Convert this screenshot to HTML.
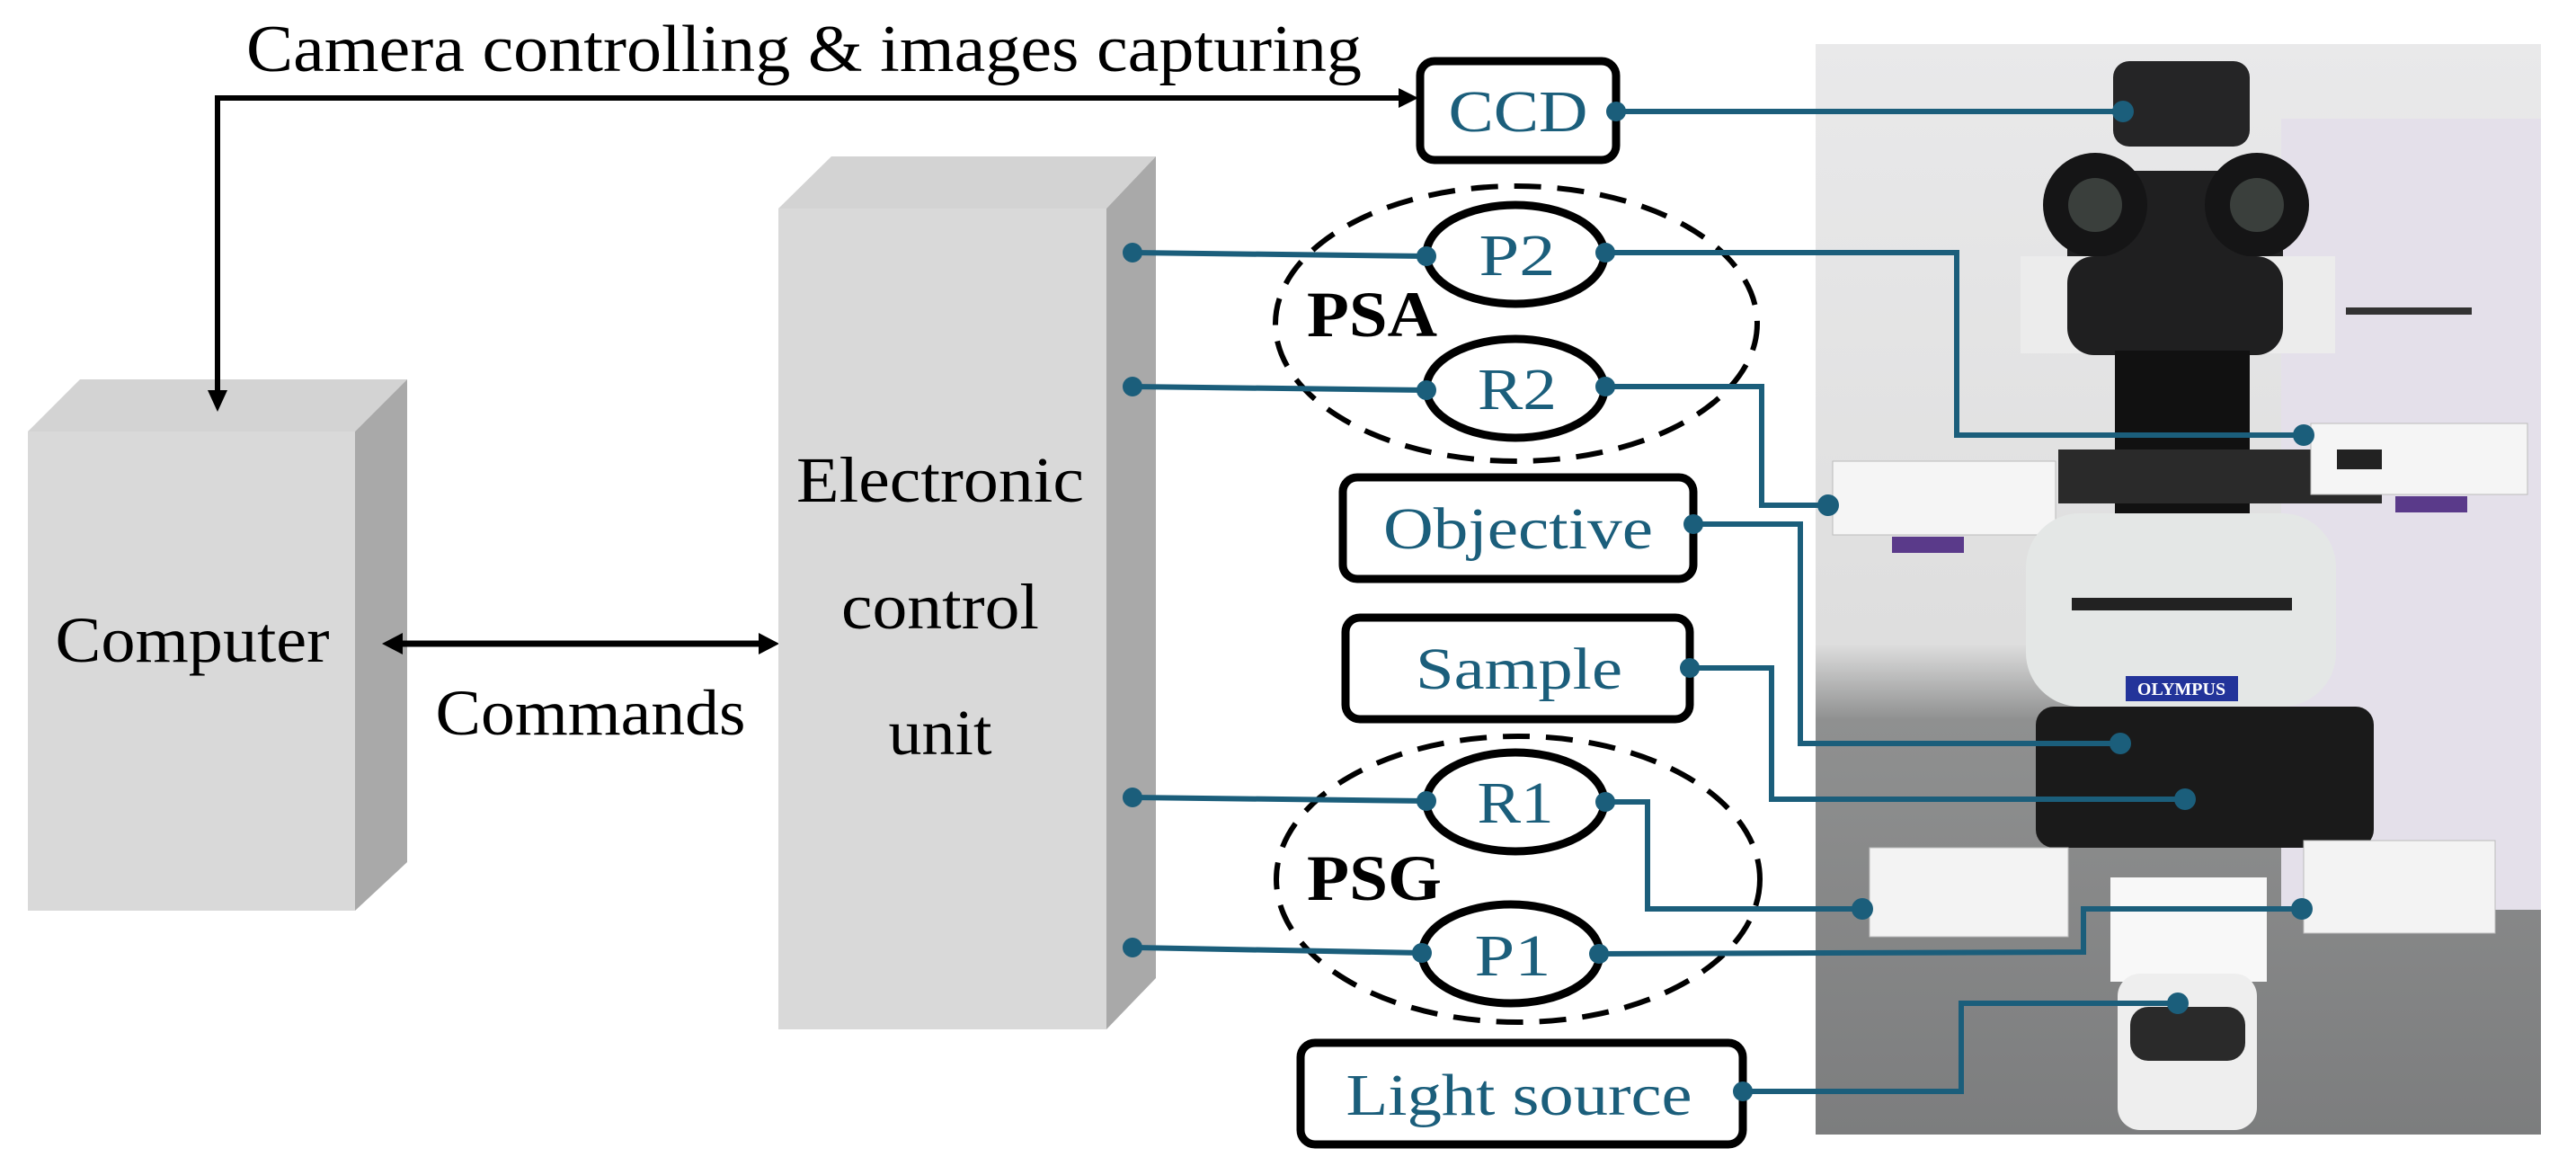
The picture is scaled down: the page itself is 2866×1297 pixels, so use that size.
<!DOCTYPE html>
<html><head><meta charset="utf-8"><style>
html,body{margin:0;padding:0;background:#fff;}
svg{display:block;}
text{font-family:"Liberation Serif",serif;}
</style></head><body>
<svg width="2866" height="1297" viewBox="0 0 2866 1297" xmlns="http://www.w3.org/2000/svg">
<defs>
<linearGradient id="bg" x1="0" y1="0" x2="0" y2="1">
<stop offset="0" stop-color="#e9e9ea"/><stop offset="0.55" stop-color="#dedede"/><stop offset="0.62" stop-color="#8f9090"/><stop offset="1" stop-color="#7c7d7e"/>
</linearGradient>
</defs>
<!-- Photo -->
<g>
<rect x="2020" y="49" width="807" height="1213" fill="url(#bg)"/>
<rect x="2538" y="132" width="289" height="880" fill="#e4e0ea"/>
<rect x="2351" y="68" width="152" height="95" rx="18" fill="#252526"/>
<rect x="2300" y="190" width="240" height="200" rx="40" fill="#1f1f20"/>
<circle cx="2331" cy="228" r="58" fill="#151516"/><circle cx="2331" cy="228" r="30" fill="#3a3f3c"/>
<circle cx="2511" cy="228" r="58" fill="#151516"/><circle cx="2511" cy="228" r="30" fill="#3a3f3c"/>
<rect x="2248" y="285" width="350" height="108" fill="#ececec"/>
<rect x="2300" y="285" width="240" height="110" rx="30" fill="#1f1f20"/>
<rect x="2610" y="342" width="140" height="8" fill="#333"/>
<rect x="2353" y="390" width="150" height="200" fill="#111"/>
<rect x="2290" y="500" width="360" height="60" fill="#2a2a2a"/>
<rect x="2039" y="513" width="248" height="82" fill="#f5f5f5" stroke="#bbb"/>
<rect x="2571" y="471" width="241" height="79" fill="#f5f5f5" stroke="#bbb"/>
<rect x="2600" y="500" width="50" height="22" fill="#222"/>
<rect x="2105" y="597" width="80" height="18" fill="#5a3a8a"/>
<rect x="2665" y="552" width="80" height="18" fill="#5a3a8a"/>
<rect x="2254" y="571" width="345" height="215" rx="60" fill="#e4e7e6"/>
<rect x="2305" y="665" width="245" height="14" fill="#222"/>
<rect x="2365" y="752" width="125" height="28" fill="#23349a"/>
<text x="2427" y="773" font-size="20" font-weight="bold" fill="#fff" text-anchor="middle" font-family="Liberation Sans,sans-serif">OLYMPUS</text>
<rect x="2265" y="786" width="376" height="157" rx="20" fill="#1a1a1a"/>
<rect x="2080" y="943" width="221" height="99" fill="#f3f3f3" stroke="#bbb"/>
<rect x="2563" y="935" width="213" height="103" fill="#f3f3f3" stroke="#bbb"/>
<rect x="2348" y="976" width="174" height="116" fill="#f8f8f8"/>
<rect x="2356" y="1083" width="155" height="174" rx="25" fill="#eee"/>
<rect x="2370" y="1120" width="128" height="60" rx="20" fill="#2a2a2a"/>
</g>

<!-- Title -->
<text x="274" y="79" font-size="74" textLength="1241" lengthAdjust="spacingAndGlyphs">Camera controlling &amp; images capturing</text>

<!-- Computer -->
<polygon points="31,480 89,422 453,422 395,480" fill="#d3d3d3"/>
<polygon points="395,480 453,422 453,959 395,1013" fill="#a9a9a9"/>
<rect x="31" y="480" width="364" height="533" fill="#d9d9d9"/>
<text x="214" y="736" font-size="72" text-anchor="middle" textLength="305" lengthAdjust="spacingAndGlyphs">Computer</text>

<!-- top arrow -->
<polyline points="242,440 242,109 1560,109" fill="none" stroke="#000" stroke-width="6"/>
<polygon points="1578,109 1556,98 1556,120" fill="#000"/>
<polygon points="242,458 231,434 253,434" fill="#000"/>

<!-- Commands -->
<line x1="440" y1="716" x2="852" y2="716" stroke="#000" stroke-width="7"/>
<polygon points="425,716 448,704 448,728" fill="#000"/>
<polygon points="867,716 844,704 844,728" fill="#000"/>
<text x="657" y="817" font-size="72" text-anchor="middle" textLength="345" lengthAdjust="spacingAndGlyphs">Commands</text>

<!-- ECU -->
<polygon points="866,232 925,174 1286,174 1231,232" fill="#d3d3d3"/>
<polygon points="1231,232 1286,174 1286,1088 1231,1145" fill="#a9a9a9"/>
<rect x="866" y="232" width="365" height="913" fill="#d9d9d9"/>
<text x="1046" y="558" font-size="72" text-anchor="middle" textLength="320" lengthAdjust="spacingAndGlyphs">Electronic</text>
<text x="1046" y="699" font-size="72" text-anchor="middle" textLength="220" lengthAdjust="spacingAndGlyphs">control</text>
<text x="1046" y="839" font-size="72" text-anchor="middle" textLength="115" lengthAdjust="spacingAndGlyphs">unit</text>

<!-- dashed ellipses -->
<ellipse cx="1687" cy="360" rx="268" ry="153" fill="none" stroke="#000" stroke-width="6" stroke-dasharray="30,18"/>
<ellipse cx="1689" cy="978" rx="269" ry="159" fill="none" stroke="#000" stroke-width="6" stroke-dasharray="30,18"/>
<text x="1454" y="374" font-size="72" font-weight="bold" textLength="145" lengthAdjust="spacingAndGlyphs">PSA</text>
<text x="1454" y="1001" font-size="72" font-weight="bold" textLength="150" lengthAdjust="spacingAndGlyphs">PSG</text>

<!-- teal connectors -->
<g fill="none" stroke="#1b5e7b" stroke-width="6">
<polyline points="1798,124 2362,124"/>
<polyline points="1260,281 1587,285"/>
<polyline points="1786,281 2177,281 2177,484 2563,484"/>
<polyline points="1260,430 1587,434"/>
<polyline points="1786,430 1960,430 1960,562 2034,562"/>
<polyline points="1884,583 2003,583 2003,827 2359,827"/>
<polyline points="1880,743 1971,743 1971,889 2431,889"/>
<polyline points="1260,887 1587,891"/>
<polyline points="1786,892 1833,892 1833,1011 2072,1011"/>
<polyline points="1260,1054 1582,1060"/>
<polyline points="1779,1061 2318,1059 2318,1011 2561,1011"/>
<polyline points="1939,1214 2182,1214 2182,1116 2423,1116"/>
</g>
<g fill="#1b5e7b">
<circle cx="1798" cy="124" r="11"/><circle cx="2362" cy="124" r="12"/>
<circle cx="1260" cy="281" r="11"/><circle cx="1587" cy="285" r="11"/><circle cx="1786" cy="281" r="11"/><circle cx="2563" cy="484" r="12"/>
<circle cx="1260" cy="430" r="11"/><circle cx="1587" cy="434" r="11"/><circle cx="1786" cy="430" r="11"/><circle cx="2034" cy="562" r="12"/>
<circle cx="1884" cy="583" r="11"/><circle cx="2359" cy="827" r="12"/>
<circle cx="1880" cy="743" r="11"/><circle cx="2431" cy="889" r="12"/>
<circle cx="1260" cy="887" r="11"/><circle cx="1587" cy="891" r="11"/><circle cx="1786" cy="892" r="11"/><circle cx="2072" cy="1011" r="12"/>
<circle cx="1260" cy="1054" r="11"/><circle cx="1582" cy="1060" r="11"/><circle cx="1779" cy="1061" r="11"/><circle cx="2561" cy="1011" r="12"/>
<circle cx="1939" cy="1214" r="11"/><circle cx="2423" cy="1116" r="12"/>
</g>

<!-- nodes -->
<g fill="#fff" stroke="#000" stroke-width="9">
<rect x="1580" y="68" width="218" height="110" rx="16"/>
<ellipse cx="1686" cy="283" rx="99" ry="55"/>
<ellipse cx="1686" cy="432" rx="99" ry="55"/>
<rect x="1494" y="531" width="390" height="113" rx="16"/>
<rect x="1497" y="687" width="383" height="113" rx="16"/>
<ellipse cx="1686" cy="892" rx="99" ry="55"/>
<ellipse cx="1681" cy="1061" rx="99" ry="55"/>
<rect x="1447" y="1160" width="492" height="113" rx="16"/>
</g>
<g fill="#1b5e7b">
<circle cx="1798" cy="124" r="11"/><circle cx="1587" cy="285" r="11"/><circle cx="1786" cy="281" r="11"/>
<circle cx="1587" cy="434" r="11"/><circle cx="1786" cy="430" r="11"/><circle cx="1884" cy="583" r="11"/>
<circle cx="1880" cy="743" r="11"/><circle cx="1587" cy="891" r="11"/><circle cx="1786" cy="892" r="11"/>
<circle cx="1582" cy="1060" r="11"/><circle cx="1779" cy="1061" r="11"/><circle cx="1939" cy="1214" r="11"/>
</g>
<g fill="#1b5e7b" font-size="66" text-anchor="middle">
<text x="1689" y="146" textLength="155" lengthAdjust="spacingAndGlyphs">CCD</text>
<text x="1688" y="306" textLength="85" lengthAdjust="spacingAndGlyphs">P2</text>
<text x="1688" y="455" textLength="88" lengthAdjust="spacingAndGlyphs">R2</text>
<text x="1689" y="610" textLength="300" lengthAdjust="spacingAndGlyphs">Objective</text>
<text x="1690" y="766" textLength="230" lengthAdjust="spacingAndGlyphs">Sample</text>
<text x="1686" y="915" textLength="85" lengthAdjust="spacingAndGlyphs">R1</text>
<text x="1683" y="1085" textLength="85" lengthAdjust="spacingAndGlyphs">P1</text>
<text x="1690" y="1240" textLength="385" lengthAdjust="spacingAndGlyphs">Light source</text>
</g>
</svg>
</body></html>
